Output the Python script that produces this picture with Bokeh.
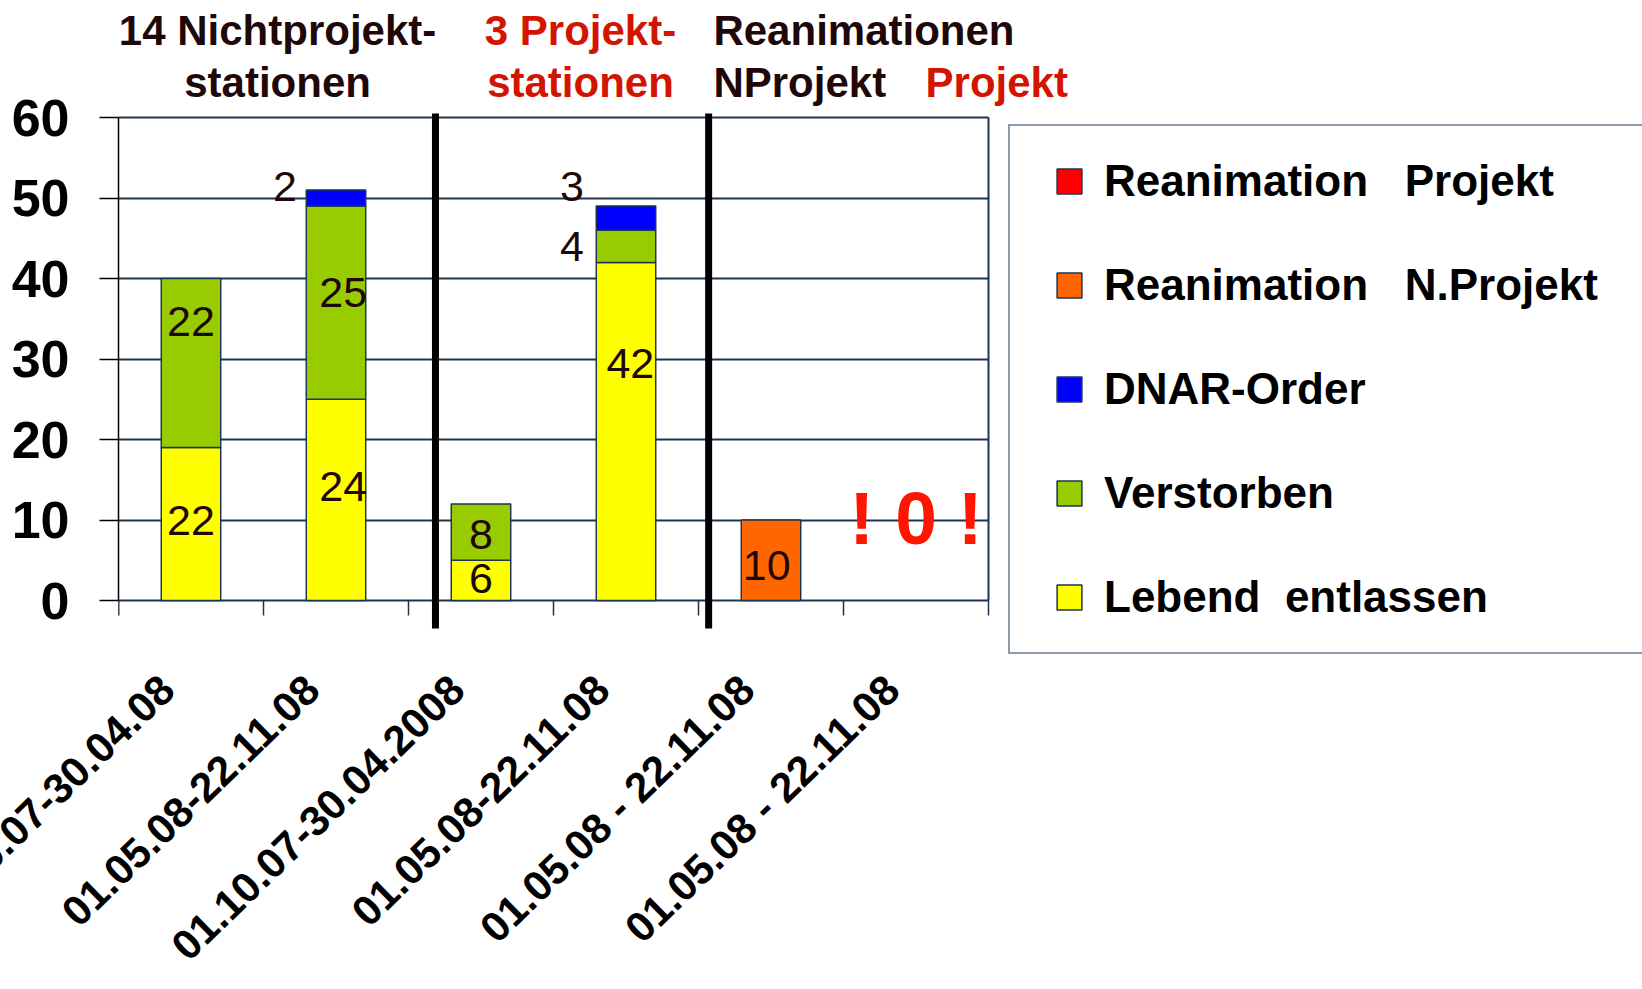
import numpy as np
from bokeh.plotting import figure
from bokeh.models import (FixedTicker, CustomJSTickFormatter, Legend, LegendItem, Range1d)
from bokeh.core.properties import value
from bokeh.embed import file_html
from bokeh.resources import INLINE

# ---------------- data ----------------
categories = ["01.10.07-30.04.08", "01.05.08-22.11.08", "01.10.07-30.04.2008",
              "01.05.08-22.11.08", "01.05.08 - 22.11.08", "01.05.08 - 22.11.08"]
lebend_entlassen = [19, 25, 5, 42, 0, 0]
verstorben = [21, 24, 7, 4, 0, 0]
dnar_order = [0, 2, 0, 3, 0, 0]
reanimation_nprojekt = [0, 0, 0, 0, 10, 0]
reanimation_projekt = [0, 0, 0, 0, 0, 0]

# numbers printed on the slide, per bar (category index)
label_text = ["22", "22", "24", "25", "2", "6", "8", "42", "4", "3", "10"]
label_cat = [0, 0, 1, 1, 1, 2, 2, 3, 3, 3, 4]

y_ticks = [0, 10, 20, 30, 40, 50, 60]

# ---------------- layout / style ----------------
label_dx = [0.0, 0.0, 0.05, 0.05, -0.27, 0.0, 0.0, 0.03, -0.29, -0.29, -0.03]
label_y = [10.0, 34.6, 14.1, 38.2, 51.4, 2.7, 8.2, 29.4, 44.0, 51.4, 4.3]
label_align = ["center", "center", "center", "center", "right", "center", "center",
               "center", "right", "right", "center"]
separators = [2.186, 4.07]

SLATE = "#1c3550"
DARK = "#1f0808"
RED_T = "#d21400"
FONT = "Liberation Sans"

N = len(categories)
Y_MAX = y_ticks[-1]
PX_PER_UNIT = 8.05          # vertical scale of the value axis
PX_PER_CAT = 145.0          # horizontal width of a category
W, H = 1642, 989
SHIFT = 160                 # canvas extends this far left of the page (first label is cut off)
LEFT, Y0_PAGE, BELOW = 118, 600, 60   # frame left, page y of value 0, frame below value 0

x_end = (W - LEFT) / PX_PER_CAT
y_start = -BELOW / PX_PER_UNIT
y_end = Y0_PAGE / PX_PER_UNIT

p = figure(width=W + SHIFT, height=H, x_range=Range1d(0, x_end),
           y_range=Range1d(y_start, y_end),
           output_backend="svg", toolbar_location=None,
           min_border_left=LEFT + SHIFT, min_border_right=0, min_border_top=0,
           min_border_bottom=H - Y0_PAGE - BELOW)
p.margin = (0, 0, 0, -SHIFT)
p.outline_line_color = None
p.background_fill_color = "white"
p.border_fill_color = "white"
p.xgrid.visible = False
p.ygrid.ticker = FixedTicker(ticks=y_ticks)
p.ygrid.grid_line_color = SLATE
p.ygrid.grid_line_width = 2
p.ygrid.cross_bounds = (0, N)

# y axis
ya = p.yaxis[0]
ya.ticker = FixedTicker(ticks=y_ticks)
ya.bounds = (0, Y_MAX)
ya.axis_line_color = "black"
ya.axis_line_width = 1.5
ya.major_tick_out = 19
ya.major_tick_in = 0
ya.major_tick_line_color = "black"
ya.major_tick_line_width = 1.5
ya.minor_tick_line_color = None
ya.major_label_text_font = FONT
ya.major_label_text_font_style = "bold"
ya.major_label_text_font_size = "52px"
ya.major_label_text_color = "black"
ya.major_label_standoff = 30

# x axis: rotated category labels
LABEL_SHIFT = 0.165
xa = p.xaxis[0]
xa.ticker = FixedTicker(ticks=[i + 0.5 - LABEL_SHIFT for i in range(N)])
xa.formatter = CustomJSTickFormatter(args=dict(labels=categories),
                                     code="return labels[Math.floor(tick)]")
xa.axis_line_color = None
xa.major_tick_line_color = None
xa.minor_tick_line_color = None
xa.major_label_orientation = 0.77
xa.major_label_text_font = FONT
xa.major_label_text_font_style = "bold"
xa.major_label_text_font_size = "42px"
xa.major_label_text_line_height = 1.0
xa.major_label_text_color = "black"
xa.major_label_standoff = 16

# category boundary ticks (below the value-0 line) and right border of the plot area
tick_len = 15 / PX_PER_UNIT
bx = list(range(N + 1))
p.segment(x0=bx, y0=[-tick_len] * len(bx), x1=bx, y1=[0] * len(bx),
          line_color=SLATE, line_width=1.5)
p.segment(x0=[0], y0=[-tick_len], x1=[0], y1=[0], line_color="black", line_width=1.5)
p.segment(x0=[N], y0=[0], x1=[N], y1=[Y_MAX], line_color=SLATE, line_width=2)

# group separators
sep_low = -28 / PX_PER_UNIT
p.segment(x0=separators, y0=[sep_low] * 2, x1=separators, y1=[Y_MAX + 0.5] * 2,
          line_color="black", line_width=7)

# stacked bars
series = [
    ("Lebend  entlassen", lebend_entlassen, "#FFFF00"),
    ("Verstorben", verstorben, "#99CC00"),
    ("DNAR-Order", dnar_order, "#0000FF"),
    ("Reanimation   N.Projekt", reanimation_nprojekt, "#FF6600"),
    ("Reanimation   Projekt", reanimation_projekt, "#FF0000"),
]
xc = np.arange(N) + 0.5
bottom = np.zeros(N)
legend_rs = {}
for name, vals, col in series:
    v = np.array(vals, dtype=float)
    m = v > 0
    if m.any():
        p.vbar(x=xc[m], bottom=bottom[m], top=(bottom + v)[m], width=0.41,
               fill_color=col, line_color=SLATE, line_width=1.5)
    bottom = bottom + v
    legend_rs[name] = p.scatter(x=[np.nan], y=[np.nan], marker="square", fill_color=col,
                                line_color=SLATE, line_width=1.5)

# value labels
lx = [label_cat[i] + 0.5 + label_dx[i] for i in range(len(label_text))]
p.text(x=lx, y=label_y, text=label_text, text_align=label_align, text_baseline="middle",
       text_font=value(FONT), text_font_size="43px", text_color=DARK)

# "! 0 !" for the project bar
p.text(x=[xc[5]], y=[10.3], text=["! %d !" % sum(reanimation_projekt)],
       text_align="center", text_baseline="middle", text_font=value(FONT),
       text_font_style="bold", text_font_size="75px", text_color="#FF1500")

# group titles (vertical centres of the two title lines)
L1 = (Y0_PAGE - 30) / PX_PER_UNIT
L2 = (Y0_PAGE - 82) / PX_PER_UNIT
titles = [
    (1.097, L1, "14 Nichtprojekt-", DARK, "center"),
    (1.097, L2, "stationen", DARK, "center"),
    (3.186, L1, "3 Projekt-", RED_T, "center"),
    (3.186, L2, "stationen", RED_T, "center"),
    (4.103, L1, "Reanimationen", DARK, "left"),
    (4.103, L2, "NProjekt", DARK, "left"),
    (5.566, L2, "Projekt", RED_T, "left"),
]
for tx, ty, tt, tc, ta in titles:
    p.text(x=[tx], y=[ty], text=[tt], text_align=ta, text_baseline="middle",
           text_font=value(FONT), text_font_style="bold", text_font_size="42px",
           text_color=tc)

# legend (box 1008..1640 x 126..654 on the page)
order = ["Reanimation   Projekt", "Reanimation   N.Projekt", "DNAR-Order", "Verstorben",
         "Lebend  entlassen"]
legend = Legend(items=[LegendItem(label=n, renderers=[legend_rs[n]]) for n in order],
                location=(1008 - LEFT, Y0_PAGE + BELOW - 654), margin=0, padding=24,
                spacing=42, glyph_width=70, glyph_height=62, label_standoff=0,
                label_width=514,
                label_text_font=FONT, label_text_font_style="bold",
                label_text_font_size="44px", label_text_color="black",
                border_line_color=SLATE, border_line_width=2.5,
                background_fill_color="white", background_fill_alpha=1.0)
p.add_layout(legend)

open("out.html", "w").write(file_html(p, INLINE))
